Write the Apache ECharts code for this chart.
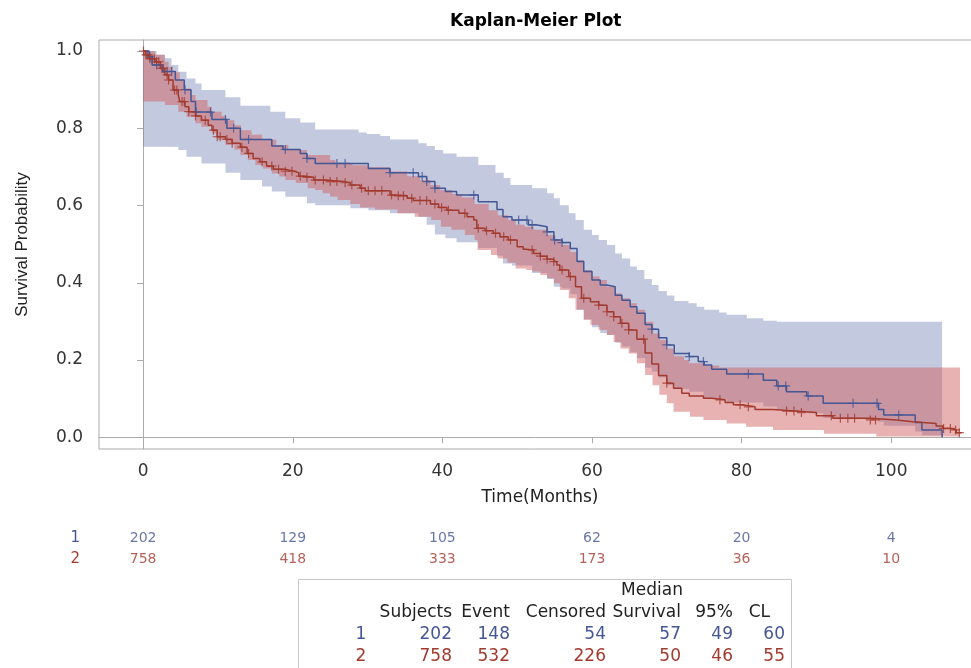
<!DOCTYPE html>
<html>
<head>
<meta charset="utf-8">
<script src="https://cdn.jsdelivr.net/npm/echarts@6/dist/echarts.min.js"></script>
<style>
  html, body { margin: 0; padding: 0; background: #fff; }
  #chart { width: 971px; height: 668px; }
</style>
</head>
<body>
<div id="chart"></div>
<script>
// survival step curves [time, S(t)]
var blueCurve = [[0,1.0],[0.8,0.985],[1.2,0.964],[2.6,0.947],[4.3,0.925],[5.5,0.90],[6.4,0.869],[7.0,0.842],[9.2,0.823],[11.2,0.80],[13.0,0.771],[17.2,0.754],[18.7,0.745],[21.0,0.735],[21.9,0.722],[23.0,0.709],[30.1,0.696],[33.0,0.685],[36.8,0.675],[37.9,0.662],[39.0,0.645],[40.4,0.636],[41.9,0.627],[44.8,0.61],[47.3,0.59],[48.1,0.571],[49.3,0.5625],[51.5,0.55],[52.5,0.545],[54.0,0.532],[54.9,0.511],[56.0,0.504],[57.1,0.489],[58.0,0.455],[58.9,0.429],[60.0,0.407],[61.1,0.394],[62.0,0.39],[63.1,0.368],[64.0,0.355],[65.1,0.338],[66.0,0.321],[67.1,0.292],[68.0,0.28],[68.9,0.258],[70.0,0.239],[71.0,0.217],[73.0,0.209],[74.2,0.196],[75.0,0.187],[76.0,0.176],[78.0,0.164],[82.9,0.148],[84.7,0.133],[86.0,0.118],[88.7,0.107],[90.9,0.088],[98.3,0.072],[99.0,0.058],[103.2,0.038],[104.1,0.019],[106.8,0.0]];
var redCurve = [[0,1.0],[0.3,0.99],[0.8,0.98],[1.6,0.972],[2.3,0.955],[2.9,0.938],[3.4,0.925],[4.0,0.899],[4.7,0.886],[4.9,0.869],[5.6,0.856],[6.1,0.843],[7.0,0.832],[7.8,0.821],[8.7,0.808],[9.2,0.795],[9.9,0.778],[11.0,0.771],[11.9,0.761],[13.0,0.751],[13.9,0.735],[14.7,0.722],[15.6,0.713],[16.5,0.702],[17.4,0.694],[19.0,0.689],[20.1,0.685],[20.8,0.676],[21.7,0.673],[22.8,0.666],[24.3,0.662],[26.8,0.659],[27.7,0.653],[29.0,0.645],[29.7,0.638],[33.0,0.627],[33.9,0.625],[35.3,0.619],[36.1,0.613],[38.4,0.604],[39.5,0.595],[40.6,0.588],[42.2,0.58],[43.3,0.571],[44.2,0.5625],[44.6,0.541],[45.7,0.535],[46.8,0.528],[47.7,0.519],[48.8,0.511],[50.0,0.493],[50.8,0.487],[51.1,0.485],[52.2,0.476],[53.1,0.469],[54.0,0.461],[54.9,0.455],[55.3,0.446],[55.7,0.433],[56.9,0.416],[57.8,0.39],[58.6,0.36],[59.8,0.351],[60.9,0.342],[62.0,0.325],[62.9,0.312],[63.8,0.295],[64.9,0.278],[66.0,0.254],[67.1,0.218],[68.0,0.19],[68.9,0.16],[70.0,0.14],[70.9,0.127],[72.0,0.114],[73.0,0.107],[74.9,0.101],[76.0,0.097],[77.8,0.09],[78.9,0.084],[80.0,0.079],[81.8,0.072],[84.2,0.068],[87.1,0.064],[90.0,0.056],[92.2,0.049],[97.2,0.045],[100.7,0.04],[102.9,0.036],[106.0,0.029],[106.9,0.023],[108.0,0.019],[108.7,0.012],[109.4,0.012]];

// confidence limits (step) [time, value]
var blueUpper = [[0,1.0],[1.8,0.99],[2.9,0.981],[3.8,0.964],[4.7,0.946],[5.8,0.929],[7.0,0.916],[7.8,0.899],[11.0,0.88],[13.0,0.858],[17.0,0.843],[19.0,0.826],[21.0,0.815],[23.0,0.797],[28.8,0.789],[29.9,0.785],[31.7,0.78],[33.0,0.771],[36.8,0.761],[37.9,0.754],[39.0,0.744],[40.1,0.735],[41.9,0.726],[44.8,0.705],[47.1,0.685],[48.2,0.671],[49.1,0.653],[52.0,0.645],[54.0,0.632],[54.9,0.619],[55.7,0.601],[56.9,0.58],[57.8,0.5625],[58.9,0.537],[60.0,0.524],[60.9,0.511],[62.0,0.498],[63.1,0.476],[64.0,0.463],[65.1,0.442],[66.0,0.433],[67.0,0.41],[68.0,0.394],[68.9,0.379],[70.0,0.367],[71.0,0.353],[72.9,0.347],[74.0,0.338],[75.0,0.33],[77.0,0.323],[78.0,0.317],[80.7,0.308],[82.9,0.302],[84.7,0.299],[106.8,0.299]];
var blueLower = [[0,0.752],[4.7,0.744],[5.8,0.726],[7.8,0.709],[11.0,0.685],[13.0,0.666],[15.9,0.649],[17.2,0.636],[19.0,0.623],[21.9,0.606],[23.0,0.601],[27.7,0.593],[30.1,0.588],[33.0,0.58],[36.8,0.57],[37.9,0.55],[39.0,0.525],[40.4,0.515],[41.9,0.505],[44.8,0.49],[47.3,0.47],[48.1,0.45],[49.3,0.445],[52.0,0.425],[54.0,0.41],[54.9,0.39],[56.0,0.385],[57.1,0.37],[58.0,0.33],[58.9,0.305],[60.0,0.285],[61.1,0.27],[62.0,0.265],[63.1,0.245],[64.0,0.235],[65.1,0.22],[66.0,0.205],[67.1,0.18],[68.0,0.17],[68.9,0.155],[70.0,0.135],[71.0,0.125],[73.0,0.118],[74.9,0.1],[78.0,0.09],[82.9,0.08],[84.7,0.072],[86.0,0.068],[88.7,0.062],[90.9,0.05],[98.3,0.04],[99.0,0.03],[103.2,0.015],[104.1,0.005],[106.8,0.005]];
var redUpper = [[0,1.0],[1.6,0.99],[2.9,0.972],[3.4,0.959],[4.0,0.945],[4.9,0.925],[5.6,0.903],[6.4,0.886],[7.0,0.873],[8.6,0.856],[9.2,0.843],[10.5,0.832],[11.1,0.821],[12.2,0.808],[13.1,0.795],[14.5,0.783],[15.9,0.77],[17.8,0.757],[19.4,0.744],[21.9,0.731],[25.0,0.718],[25.7,0.709],[28.0,0.704],[30.0,0.699],[33.0,0.688],[35.3,0.676],[37.0,0.666],[38.4,0.653],[39.7,0.64],[41.3,0.63],[42.6,0.621],[44.3,0.604],[46.2,0.588],[47.4,0.575],[48.8,0.5625],[49.8,0.55],[51.0,0.545],[52.2,0.537],[54.0,0.524],[54.9,0.511],[56.0,0.498],[57.1,0.48],[58.0,0.459],[58.9,0.433],[60.0,0.416],[61.0,0.407],[62.0,0.39],[63.1,0.373],[64.0,0.36],[65.1,0.347],[66.0,0.33],[67.1,0.299],[68.2,0.269],[69.1,0.252],[70.0,0.23],[71.0,0.21],[72.3,0.2],[73.0,0.192],[74.9,0.186],[77.0,0.181],[109.2,0.181]];
var redLower = [[0,0.869],[2.9,0.86],[4.7,0.843],[5.8,0.83],[7.0,0.813],[7.8,0.804],[9.2,0.787],[10.0,0.77],[11.0,0.757],[12.2,0.745],[13.0,0.731],[14.0,0.718],[15.0,0.705],[16.0,0.696],[17.2,0.683],[18.2,0.675],[19.0,0.666],[20.4,0.658],[22.0,0.645],[23.0,0.64],[24.0,0.632],[25.0,0.623],[26.0,0.614],[27.7,0.604],[29.0,0.595],[31.0,0.59],[34.0,0.58],[36.3,0.571],[38.5,0.5625],[39.8,0.545],[41.2,0.537],[43.0,0.524],[44.3,0.511],[44.7,0.485],[46.5,0.472],[47.4,0.463],[48.7,0.452],[49.8,0.437],[51.2,0.433],[52.0,0.429],[53.1,0.42],[54.0,0.412],[54.9,0.399],[55.7,0.381],[56.9,0.36],[57.8,0.33],[58.9,0.304],[59.8,0.291],[60.9,0.278],[62.0,0.265],[62.9,0.247],[63.8,0.23],[64.9,0.217],[66.0,0.192],[67.1,0.161],[68.1,0.135],[69.0,0.11],[70.0,0.088],[70.9,0.066],[73.1,0.053],[74.9,0.045],[78.0,0.036],[80.6,0.027],[84.2,0.019],[91.0,0.009],[98.0,0.002],[109.2,0.002]];

// censoring times
var blueCensor = [0.9,1.8,3.2,3.8,5.6,7.1,9.0,11.0,12.1,14.1,19.0,21.9,25.9,27.0,33.0,36.1,37.3,37.9,39.0,44.2,50.2,51.3,52.0,54.0,55.0,56.0,68.0,70.0,73.0,74.9,80.9,84.9,85.9,88.9,94.9,98.1,101.0];
var redCensor = [0.05,0.4,0.6,0.9,1.2,1.5,1.8,2.1,2.5,2.7,3.2,3.4,4.2,4.5,5.2,5.5,6.1,7.0,8.3,9.4,9.9,10.3,11.2,11.9,13.2,14.1,15.9,17.2,18.1,19.0,19.9,21.0,21.9,23.0,24.1,25.0,25.9,27.0,27.9,29.2,30.1,31.0,31.9,33.2,34.1,34.8,35.9,37.0,37.9,39.0,39.9,40.8,43.0,44.8,45.9,47.1,48.2,49.1,52.0,53.1,54.0,54.9,56.0,57.1,58.9,60.9,62.0,62.9,64.0,64.9,66.9,70.0,77.1,79.8,80.9,86.0,87.0,88.0,92.0,93.2,94.2,95.1,97.2,97.9,107.0,107.9,108.6,109.1];

// number at risk
var riskTimes = [0, 20, 40, 60, 80, 100];
var risk1 = [202, 129, 105, 62, 20, 4];
var risk2 = [758, 418, 333, 173, 36, 10];

// summary table
var groups = ['1', '2'];
var subjects = [202, 758];
var events = [148, 532];
var censored = [54, 226];
var medians = [57, 50];
var lcl = [49, 46];
var ucl = [60, 55];

var xTicks = [0, 20, 40, 60, 80, 100];
var yTicks = [0, 0.2, 0.4, 0.6, 0.8, 1.0];

var BLUE = '#445694', RED = '#A23A2E';
var FONT = 'DejaVu Sans';

function stepAt(curve, t) {
    var v = curve[0][1];
    for (var i = 0; i < curve.length; i++) {
        if (curve[i][0] <= t) v = curve[i][1]; else break;
    }
    return v;
}

// polygon between two step functions
function bandPoints(up, lo, api) {
    var pts = [];
    var end = up[up.length - 1][0];
    for (var i = 0; i < up.length - 1; i++) {
        pts.push(api.coord([up[i][0], up[i][1]]));
        pts.push(api.coord([up[i + 1][0], up[i][1]]));
    }
    var lend = lo[lo.length - 1][0];
    pts.push(api.coord([end, up[up.length - 1][1]]));
    pts.push(api.coord([lend, lo[lo.length - 1][1]]));
    for (var j = lo.length - 2; j >= 0; j--) {
        pts.push(api.coord([lo[j + 1][0], lo[j][1]]));
        pts.push(api.coord([lo[j][0], lo[j][1]]));
    }
    return pts;
}

function bandSeries(up, lo, fill) {
    return {
        type: 'custom',
        coordinateSystem: 'cartesian2d',
        xAxisIndex: 0, yAxisIndex: 0,
        data: [[0, 0]],
        silent: true,
        renderItem: function (params, api) {
            return { type: 'polygon', shape: { points: bandPoints(up, lo, api) }, style: { fill: fill } };
        }
    };
}

var plusPath = 'path://M5,0 L5,10 M0,5 L10,5';

function censorSeries(times, curve, color) {
    return {
        type: 'scatter',
        xAxisIndex: 0, yAxisIndex: 0,
        symbol: plusPath,
        symbolSize: 9,
        silent: true,
        itemStyle: { color: 'rgba(0,0,0,0)', borderColor: color, borderWidth: 1.2 },
        data: times.map(function (t) { return [t, stepAt(curve, t)]; })
    };
}

function riskSeries(vals, cat, color) {
    return {
        type: 'scatter',
        xAxisIndex: 1, yAxisIndex: 1,
        symbolSize: 1,
        itemStyle: { color: 'rgba(0,0,0,0)' },
        label: {
            show: true, position: 'inside', color: color,
            fontFamily: FONT, fontSize: 14,
            formatter: function (p) { return p.value[2]; }
        },
        data: riskTimes.map(function (t, i) { return [t, cat, vals[i]]; })
    };
}

// summary table as graphic text
var tableEls = [];
tableEls.push({ type: 'rect', shape: { x: 298.5, y: 579.5, width: 493, height: 120 },
    style: { fill: '#fff', stroke: '#c8c8c8', lineWidth: 1 }, z: 0 });
var colRight = [452, 510, 606, 681, 733, 785];
var headers = ['Subjects', 'Event', 'Censored', 'Survival', '95%', 'CL'];
var headerRight = [452, 510, 606, 681, 733, 770];
function txt(s, x, y, align, color) {
    return { type: 'text', x: x, y: y, z: 2,
        style: { text: String(s), fill: color, font: '17px "' + FONT + '"', textAlign: align, textVerticalAlign: 'middle' } };
}
tableEls.push(txt('Median', 652, 591, 'center', '#222'));
headers.forEach(function (h, i) { tableEls.push(txt(h, headerRight[i], 613, 'right', '#222')); });
groups.forEach(function (g, r) {
    var y = 635 + r * 22;
    var c = r === 0 ? BLUE : RED;
    tableEls.push(txt(g, 361, y, 'center', c));
    [subjects[r], events[r], censored[r], medians[r], lcl[r], ucl[r]].forEach(function (v, i) {
        tableEls.push(txt(v, colRight[i], y, 'right', c));
    });
});

var chart = echarts.init(document.getElementById('chart'));
var axisGray = '#ababab';
var option = {
    animation: false,
    backgroundColor: '#fff',
    title: {
        text: 'Kaplan-Meier Plot',
        left: 445, top: 8,
        textStyle: { fontFamily: FONT, fontSize: 17, fontWeight: 'bold', color: '#000' }
    },
    grid: [
        { left: 99, top: 40, right: -10, bottom: 219, show: true, borderColor: axisGray, borderWidth: 1,
          outerBoundsMode: 'none', containLabel: false },
        { left: 99, top: 528, right: -10, height: 42, outerBoundsMode: 'none', containLabel: false }
    ],
    xAxis: [{
        type: 'value', gridIndex: 0, min: -5.9, max: 112,
        name: 'Time(Months)', nameLocation: 'middle', nameGap: 40,
        nameTextStyle: { fontFamily: FONT, fontSize: 17, color: '#222' },
        splitLine: { show: false },
        axisLine: { lineStyle: { color: axisGray } },
        axisTick: { customValues: xTicks, length: 6, lineStyle: { color: axisGray } },
        axisLabel: { customValues: xTicks, margin: 14, fontFamily: FONT, fontSize: 17, color: '#333' }
    }, {
        type: 'value', gridIndex: 1, min: -5.9, max: 112, show: false
    }],
    yAxis: [{
        type: 'value', gridIndex: 0, min: -0.0303, max: 1.0285,
        name: 'Survival Probability', nameLocation: 'middle', nameGap: 68,
        nameTextStyle: { fontFamily: 'Liberation Sans', fontSize: 17, color: '#222' },
        splitLine: { show: false },
        axisLine: { show: true, lineStyle: { color: axisGray } },
        axisTick: { show: true, customValues: yTicks, length: 6, lineStyle: { color: axisGray } },
        axisLabel: { customValues: yTicks, margin: 16, fontFamily: FONT, fontSize: 17, color: '#333',
            formatter: function (v) { return v.toFixed(1); } }
    }, {
        type: 'category', gridIndex: 1, data: ['2', '1'],
        axisLine: { show: false }, axisTick: { show: false }, splitLine: { show: false },
        axisLabel: { margin: 19, fontFamily: FONT, fontSize: 15,
            color: function (v) { return v === '1' ? BLUE : RED; } }
    }],
    series: [
        bandSeries(blueUpper, blueLower, 'rgba(111,126,179,0.42)'),
        bandSeries(redUpper, redLower, 'rgba(208,91,91,0.47)'),
        { type: 'line', step: 'end', showSymbol: false, silent: true, data: blueCurve,
          lineStyle: { color: BLUE, width: 1.5 } },
        { type: 'line', step: 'end', showSymbol: false, silent: true, data: redCurve,
          lineStyle: { color: RED, width: 1.5 } },
        censorSeries(blueCensor, blueCurve, BLUE),
        censorSeries(redCensor, redCurve, RED),
        riskSeries(risk1, '1', BLUE),
        riskSeries(risk2, '2', RED)
    ],
    graphic: tableEls
};
chart.setOption(option);
</script>
</body>
</html>
